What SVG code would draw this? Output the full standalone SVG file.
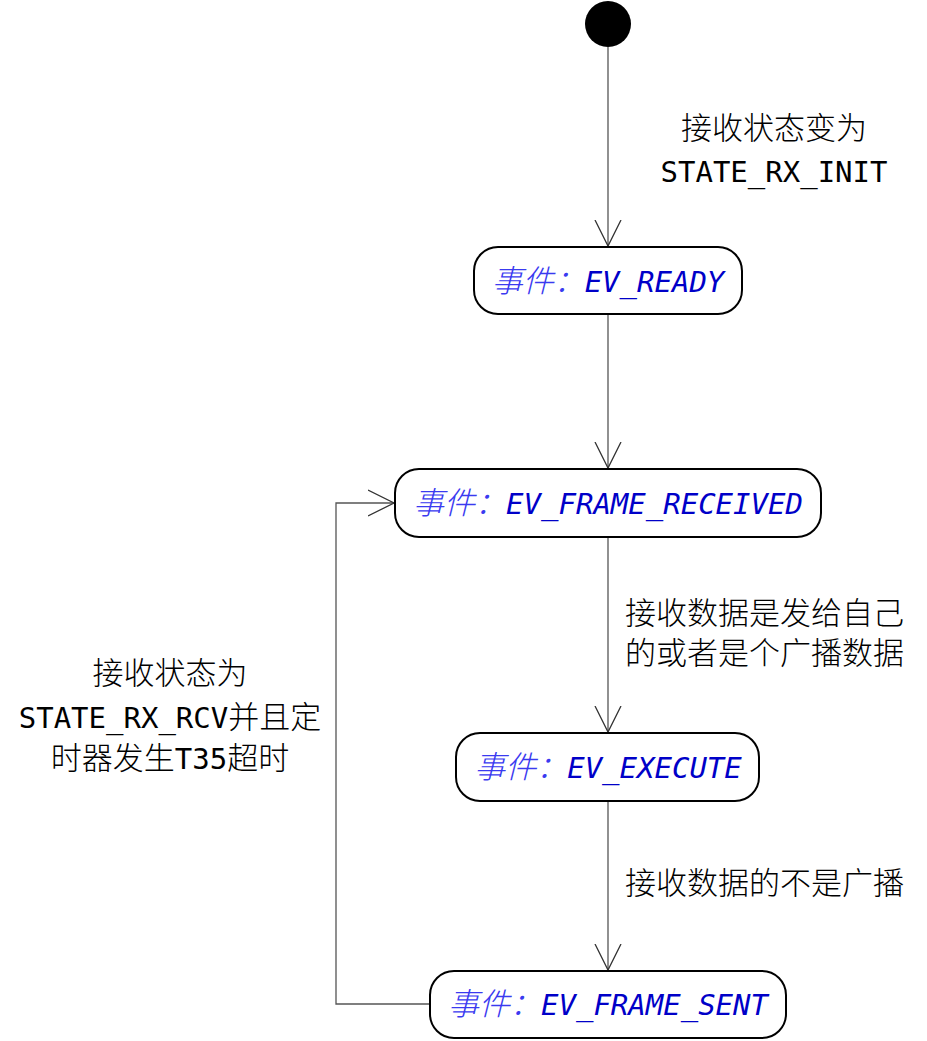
<svg xmlns="http://www.w3.org/2000/svg" width="927" height="1041" viewBox="0 0 927 1041">
<style>
.node{fill:#fff;stroke:#000;stroke-width:2}
.edge{fill:none;stroke:#555;stroke-width:1.3}
.lbl{font-family:"DejaVu Sans Mono","Noto Sans CJK SC",monospace;font-size:29px;fill:#000}
.ev{font-family:"DejaVu Sans Mono","Noto Sans CJK SC",monospace;font-size:29px;font-style:italic;fill:#0000c8}
.c{font-size:31px;font-weight:300}
.evc{fill:#3a3af0;font-size:31px;font-weight:300}
</style>
<defs>
<marker id="arr" viewBox="0 0 30 30" refX="26" refY="15" markerWidth="30" markerHeight="30" markerUnits="userSpaceOnUse" orient="auto">
<path d="M0,2 L26,15 L0,28" fill="none" stroke="#333" stroke-width="1.3"/>
</marker>
</defs>
<g id="edges">
<path class="edge" d="M608,47 V246" marker-end="url(#arr)"/>
<path class="edge" d="M608,315 V468" marker-end="url(#arr)"/>
<path class="edge" d="M608,538 V732" marker-end="url(#arr)"/>
<path class="edge" d="M608,802 V970" marker-end="url(#arr)"/>
<path class="edge" d="M430,1004 H336 V503 H394" marker-end="url(#arr)"/>
<text class="lbl c" x="774" y="139" text-anchor="middle">接收状态变为</text>
<text class="lbl" x="774" y="182" text-anchor="middle">STATE_RX_INIT</text>
<text class="lbl c" x="625" y="624">接收数据是发给自己</text>
<text class="lbl c" x="625" y="664">的或者是个广播数据</text>
<text class="lbl c" x="625" y="894">接收数据的不是广播</text>
<text class="lbl c" x="170" y="684" text-anchor="middle">接收状态为</text>
<text class="lbl" x="170" y="728" text-anchor="middle">STATE_RX_RCV<tspan class="c">并且定</tspan></text>
<text class="lbl" x="170" y="769" text-anchor="middle"><tspan class="c">时器发生</tspan>T35<tspan class="c">超时</tspan></text>
</g>
<g id="start"><circle cx="608" cy="24" r="23" fill="#000"/></g>
<g id="n1"><rect class="node" x="474" y="247" width="268" height="67" rx="24"/>
<text class="ev" x="608" y="292" text-anchor="middle"><tspan class="evc">事件：</tspan>EV_READY</text></g>
<g id="n2"><rect class="node" x="395" y="469" width="426" height="68" rx="24"/>
<text class="ev" x="608" y="514" text-anchor="middle"><tspan class="evc">事件：</tspan>EV_FRAME_RECEIVED</text></g>
<g id="n3"><rect class="node" x="456" y="733" width="303" height="68" rx="24"/>
<text class="ev" x="608" y="778" text-anchor="middle"><tspan class="evc">事件：</tspan>EV_EXECUTE</text></g>
<g id="n4"><rect class="node" x="430" y="971" width="356" height="67" rx="24"/>
<text class="ev" x="608" y="1015" text-anchor="middle"><tspan class="evc">事件：</tspan>EV_FRAME_SENT</text></g>
</svg>
